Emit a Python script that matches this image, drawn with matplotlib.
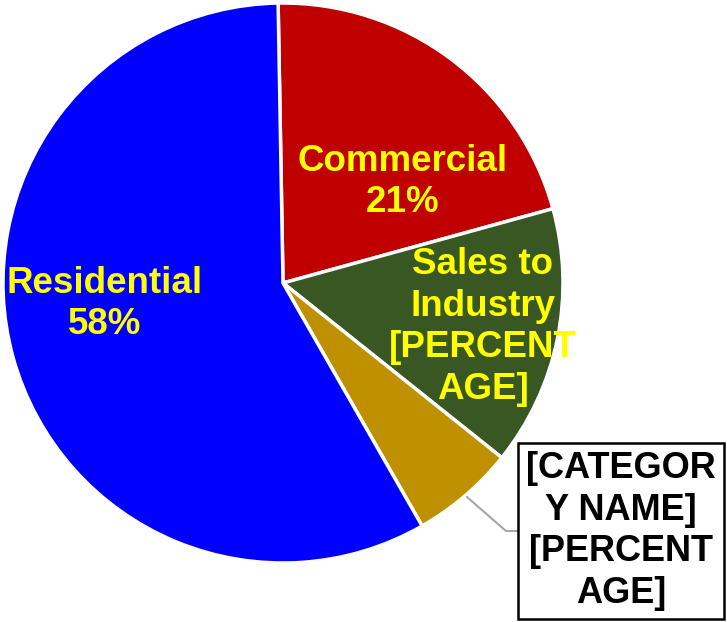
import matplotlib.pyplot as plt

categories = ["Commercial", "Sales to Industry", "[CATEGORY NAME]", "Residential"]
shares = [21, 15, 6, 58]
colors = ["#C00000", "#385723", "#BF9000", "#0000FF"]

label_texts = ["Commercial\n21%", "Sales to\nIndustry\n[PERCENT\nAGE]",
               "[CATEGOR\nY NAME]\n[PERCENT\nAGE]", "Residential\n58%"]

plt.rcParams['font.family'] = ['Liberation Sans', 'DejaVu Sans']

fig = plt.figure(figsize=(7.27, 6.22), dpi=100)
ax = fig.add_axes([0, 0, 1, 1])

wedges, _ = ax.pie(shares, colors=colors, startangle=91, counterclock=False,
                   radius=280, center=(0, 0), frame=True,
                   wedgeprops=dict(edgecolor="white", linewidth=2.5))
# pixel-ish coordinates, pie centred at origin
ax.set_xlim(-283, 727 - 283)
ax.set_ylim(-(622 - 283), 283)
ax.axis("off")

txt = dict(ha="center", va="center", fontsize=26.5, fontweight="bold", color="#FFFF00", linespacing=1.24)
ax.text(120, 101, label_texts[0], **txt)
ax.text(200, -44, label_texts[1], **txt)
ax.text(-178, -21, label_texts[3], **txt)

# leader line for the small slice
ax.plot([184, 223, 234], [-214, -248, -248], color="#A6A6A6", lw=1.5)
ax.text(338, -248, label_texts[2], ha="center", va="center", fontsize=26,
        fontweight="bold", color="black", linespacing=1.25,
        bbox=dict(boxstyle="square,pad=0.22", fc="white", ec="black", lw=1.8))

fig.savefig("out.png", dpi=100)
